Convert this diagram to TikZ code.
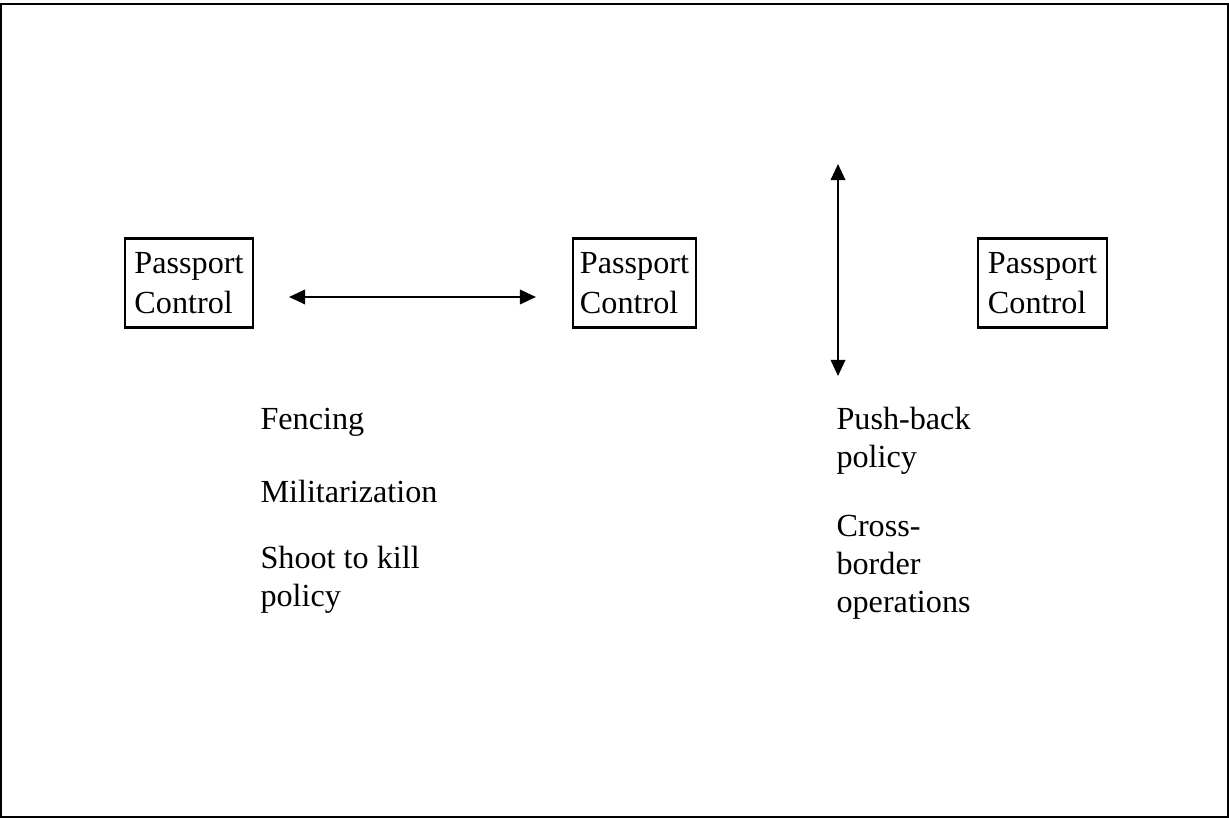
\documentclass[tikz,border=0pt]{standalone}
\usepackage{fontspec}
\setmainfont{Liberation Serif}
\usetikzlibrary{arrows.meta}
\begin{document}
\begin{tikzpicture}[x=0.0131cm,y=-0.0131cm,
  font=\fontsize{12}{14.2}\selectfont,
  pcbox/.style={draw,line width=0.9pt,align=left,inner sep=0pt,minimum height=1.166cm,
    font=\fontsize{12}{15}\selectfont},
  note/.style={align=left,anchor=west,inner sep=0pt},
  twoway/.style={{Triangle[length=6pt,width=5.4pt]}-{Triangle[length=6pt,width=5.4pt]},line width=0.8pt}]
 	\useasboundingbox (0,0) rectangle (1229,819);
 	\draw[line width=0.6pt] (1,4) rectangle (1228,817);
 	% posts
 	\node[pcbox,minimum width=1.677cm] (pc1) at (189,283) {Passport\\Control};
 	\node[pcbox,minimum width=1.611cm] (pc2) at (634.5,283) {Passport\\Control};
 	\node[pcbox,minimum width=1.69cm] (pc3) at (1042.5,283) {Passport\\Control};
 	% arrows
 	\coordinate (hl) at (289,297);
 	\coordinate (hr) at (536,297);
 	\coordinate (vt) at (838,164);
 	\coordinate (vb) at (838,376);
 	\draw[twoway] (hl)--(hr);
 	\draw[twoway] (vt)--(vb);
 	% left notes
 	\node[note] (fence) at (260,422) {Fencing};
 	\node[note] (milit) at (260,491) {Militarization};
 	\node[note] (shoot) at (260,580) {Shoot to kill\\policy};
 	% right notes
 	\node[note] (push) at (836,441) {Push-back\\policy};
 	\node[note] (cross) at (836,567) {Cross-\\border\\operations};
\end{tikzpicture}
\end{document}
